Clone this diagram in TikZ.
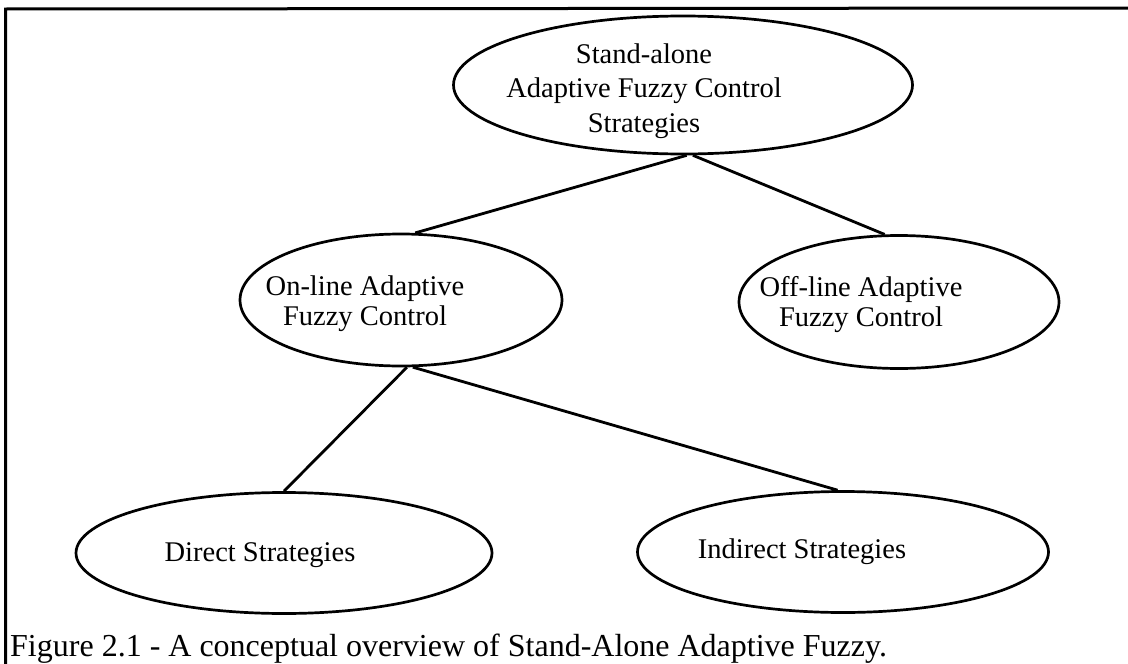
\documentclass[tikz,border=0pt]{standalone}
\usepackage{fontspec}
\setmainfont{Liberation Serif}
\usetikzlibrary{shapes.geometric, positioning}
\tikzstyle{strategy} = [ellipse, draw=black, line width=2.7pt, inner sep=0pt]
\tikzstyle{strattext} = [align=center, inner sep=0pt, font=\fontsize{28.5}{30}\selectfont]
\tikzstyle{link} = [line width=2.8pt]
\tikzstyle{frame} = [line width=3pt]
\begin{document}
\begin{tikzpicture}[x=1pt, y=-1pt, node distance=215pt]
\useasboundingbox (0,0) rectangle (1128,664);
% frame on top and left
\draw [frame] (1128,8) -- (5.5,9) -- (5.5,664);
% ellipses
\node (SA) [strategy, minimum width=459pt, minimum height=138pt] at (683,85) {};
\node (ON) [strategy, minimum width=322pt, minimum height=132pt, below of=SA, xshift=-282pt] {};
\node (OFF) [strategy, minimum width=320pt, minimum height=133pt, node distance=217pt, below of=SA, xshift=216pt] {};
\node (DS) [strategy, minimum width=416pt, minimum height=121pt, node distance=253pt, below of=ON, xshift=-117pt] {};
\node (IS) [strategy, minimum width=411pt, minimum height=121pt, node distance=252pt, below of=ON, xshift=442pt] {};
% texts
\node (SAtext) [strattext, font=\fontsize{28.5}{34.5}\selectfont] at ([xshift=-39pt, yshift=-6pt]SA.center) {Stand-alone\\Adaptive Fuzzy Control\\Strategies};
\node (ONtext) [strattext] at ([xshift=-36pt, yshift=-4pt]ON.center) {On-line Adaptive\\Fuzzy Control};
\node (OFFtext) [strattext] at ([xshift=-38pt, yshift=-3pt]OFF.center) {Off-line Adaptive\\Fuzzy Control};
\node (DStext) [strattext] at ([xshift=-24pt, yshift=-2.5pt]DS.center) {Direct Strategies};
\node (IStext) [strattext] at ([xshift=-41pt, yshift=0.5pt]IS.center) {Indirect Strategies};
% connectors
\draw [link] (SA.-87) -- (ON.78);
\draw [link] (SA.-82) -- (OFF.102);
\draw [link] (ON.-85) -- (DS.north);
\draw [link] (ON.-80) -- (IS.95);
% caption
\node (caption) [anchor=base west, inner sep=0pt, font=\fontsize{32}{38}\selectfont] at (10,656) {Figure 2.1 - A conceptual overview of Stand-Alone Adaptive Fuzzy.};
\end{tikzpicture}
\end{document}
